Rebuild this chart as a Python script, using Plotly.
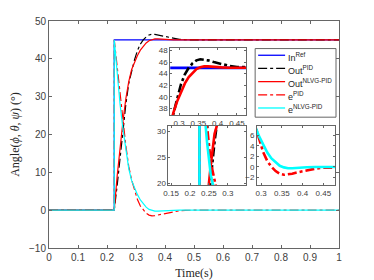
import plotly.graph_objects as go

# ---------------- data ----------------
t_ref = [0, 0.225, 0.225, 1.0]
in_ref = [0, 0, 45, 45]

t_out = [0, 0.225, 0.235, 0.245, 0.255, 0.265, 0.275, 0.285, 0.295, 0.305, 0.315,
         0.325, 0.335, 0.345, 0.355, 0.365, 0.375, 0.39, 0.41, 0.43, 0.45, 0.47, 0.5, 1.0]
out_pid = [0, 0, 6.5, 14, 21, 28, 33.5, 37, 39.8, 42.2, 43.9,
           45.0, 45.8, 46.3, 46.5, 46.45, 46.3, 46.0, 45.65, 45.35, 45.15, 45.05, 45.0, 45.0]
out_nlvg = [0, 0, 9, 17, 23.5, 29.5, 34, 37.2, 39.2, 40.9, 42.3,
            43.4, 44.2, 44.8, 45.1, 45.25, 45.25, 45.15, 45.08, 45.03, 45.0, 45.0, 45.0, 45.0]

t_err = [0, 0.225, 0.225, 0.235, 0.245, 0.255, 0.265, 0.275, 0.285, 0.295, 0.305, 0.315,
         0.325, 0.335, 0.345, 0.355, 0.365, 0.375, 0.39, 0.41, 0.43, 0.45, 0.47, 0.5, 1.0]
e_pid = [0, 0, 45, 38.5, 31, 24, 17, 11.5, 8, 5.2, 2.8, 1.1,
         0, -0.8, -1.3, -1.5, -1.45, -1.3, -1.0, -0.65, -0.35, -0.15, -0.05, 0, 0]
e_nlvg = [0, 0, 45, 36, 28, 21.5, 15.5, 11, 7.8, 5.8, 4.1, 2.7,
          1.6, 0.8, 0.2, -0.1, -0.25, -0.25, -0.15, -0.08, -0.03, 0, 0, 0, 0]

series_names = ["In<sup>Ref</sup>", "Out<sup>PID</sup>", "Out<sup>NLVG-PID</sup>",
                "e<sup>PID</sup>", "e<sup>NLVG-PID</sup>"]
series_x = [t_ref, t_out, t_out, t_err, t_err]
series_y = [in_ref, out_pid, out_nlvg, e_pid, e_nlvg]
series_color = ["#0000FF", "#000000", "#FF0000", "#FF0000", "#00FFFF"]
series_dash = ["solid", "dashdot", "solid", "dashdot", "solid"]

main_xticks = [0, 0.1, 0.2, 0.3, 0.4, 0.5, 0.6, 0.7, 0.8, 0.9, 1]
main_yticks = [-10, 0, 10, 20, 30, 40, 50]

inset_ranges = {
    "2": ([0.277, 0.474], [36.8, 48.4]),
    "3": ([0.143, 0.348], [19.6, 31.0]),
    "4": ([0.290, 0.478], [-3.45, 7.7]),
}

# ---------------- figure ----------------
W, H = 374, 280
ML, MR, MT, MB = 48.5, 35, 20.7, 32
PW, PH = W - ML - MR, H - MT - MB

def px_x(p):
    return (p - ML) / PW

def px_y(p):
    return (H - MB - p) / PH

fig = go.Figure()

subplots = [("x", "y", 1.2), ("x2", "y2", 2.6), ("x3", "y3", 2.6), ("x4", "y4", 2.6)]
for xa, ya, w in subplots:
    for name, xs, ys, c, d in zip(series_names, series_x, series_y, series_color, series_dash):
        fig.add_trace(go.Scatter(x=xs, y=ys, mode="lines", name=name, xaxis=xa, yaxis=ya,
                                 line=dict(color=c, width=w, dash=d),
                                 showlegend=False, hoverinfo="skip"))

axis_col = "#666666"
sans = "Liberation Sans, Arial, sans-serif"
serif = "Liberation Serif, Times New Roman, serif"
tick_font = dict(family=sans, size=10, color="#404040")
inset_font = dict(family=sans, size=8, color="#404040")

def ax(**kw):
    base = dict(showgrid=False, zeroline=False, showline=True, linecolor=axis_col,
                linewidth=1, mirror="ticks", ticks="inside", ticklen=3,
                tickcolor=axis_col, tickwidth=1, automargin=False)
    base.update(kw)
    return base

fig.update_layout(
    width=W, height=H,
    margin=dict(l=ML, r=MR, t=MT, b=MB),
    paper_bgcolor="white", plot_bgcolor="white",
    showlegend=False,
    xaxis=ax(range=[0, 1], tickvals=main_xticks, tickfont=tick_font, domain=[0, 1],
             title=dict(text="Time(s)", font=dict(family=serif, size=12, color="#262626"),
                        standoff=6)),
    yaxis=ax(range=[-10, 50], tickvals=main_yticks, tickfont=tick_font, domain=[0, 1],
             title=dict(text="Angle(<i>ϕ</i>, <i>θ</i>, <i>ψ</i>) (°)",
                        font=dict(family=serif, size=12, color="#262626"), standoff=6)),
    xaxis2=ax(range=inset_ranges["2"][0], tickvals=[0.3, 0.35, 0.4, 0.45], tickfont=inset_font,
              domain=[0.418, 0.680], anchor="y2", ticklen=2),
    yaxis2=ax(range=inset_ranges["2"][1], tickvals=[38, 40, 42, 44, 46, 48], tickfont=inset_font,
              domain=[0.585, 0.880], anchor="x2", ticklen=2),
    xaxis3=ax(range=inset_ranges["3"][0], tickvals=[0.15, 0.2, 0.25, 0.3], tickfont=inset_font,
              domain=[0.412, 0.679], anchor="y3", ticklen=2),
    yaxis3=ax(range=inset_ranges["3"][1], tickvals=[20, 25, 30], tickfont=inset_font,
              domain=[0.277, 0.537], anchor="x3", ticklen=2),
    xaxis4=ax(range=inset_ranges["4"][0], tickvals=[0.3, 0.35, 0.4, 0.45], tickfont=inset_font,
              domain=[0.717, 0.986], anchor="y4", ticklen=2),
    yaxis4=ax(range=inset_ranges["4"][1], tickvals=[-2, 0, 2, 4, 6], tickfont=inset_font,
              domain=[0.277, 0.537], anchor="x4", ticklen=2),
)

# white backgrounds for the insets, drawn inside each inset's own subplot layer
for n, (xr, yr) in inset_ranges.items():
    fig.add_shape(type="rect", xref=f"x{n}", yref=f"y{n}",
                  x0=xr[0], x1=xr[1], y0=yr[0], y1=yr[1],
                  fillcolor="white", line=dict(width=0), layer="below")

# compact legend box (MATLAB style)
leg_left, leg_right, leg_top, leg_bottom = 255, 336, 48.3, 117
leg_first, leg_step = 55, 13.2
fig.add_shape(type="rect", xref="paper", yref="paper",
              x0=px_x(leg_left), x1=px_x(leg_right), y0=px_y(leg_bottom), y1=px_y(leg_top),
              fillcolor="white", line=dict(color=axis_col, width=1), layer="above")
for i, (name, c, d) in enumerate(zip(series_names, series_color, series_dash)):
    yy = leg_first + i * leg_step
    fig.add_shape(type="line", xref="paper", yref="paper",
                  x0=px_x(258), x1=px_x(285), y0=px_y(yy), y1=px_y(yy),
                  line=dict(color=c, width=1.3, dash=d), layer="above")
    fig.add_annotation(xref="paper", yref="paper", x=px_x(286), y=px_y(yy + 1.5),
                       xanchor="left", yanchor="middle", showarrow=False, text=name,
                       font=dict(family=sans, size=9, color="#262626"))

fig.write_html("out.html", config={"displayModeBar": False},
               post_script="document.body.style.margin='0';")
